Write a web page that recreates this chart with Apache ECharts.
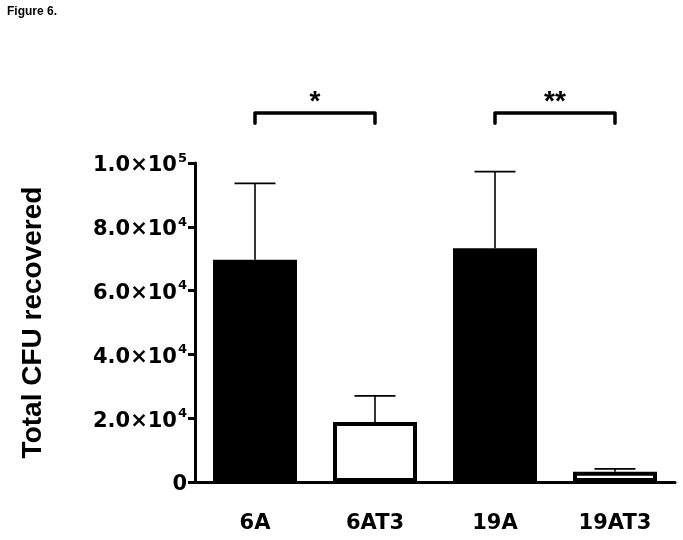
<!DOCTYPE html>
<html>
<head>
<meta charset="utf-8">
<script src="https://cdn.jsdelivr.net/npm/echarts@6/dist/echarts.min.js"></script>
<style>html,body{margin:0;padding:0;background:#fff;}#c{width:683px;height:540px;}</style>
</head>
<body>
<div id="c"></div>
<script>
var categories = ['6A', '6AT3', '19A', '19AT3'];
var means = [69700, 18800, 73300, 3200];
var errUpper = [23900, 8200, 24000, 900];
var fills = ['#000000', '#ffffff', '#000000', '#ffffff'];
var yTicks = [0, 20000, 40000, 60000, 80000, 100000];
var yTickLabels = ['0', '2.0×10|4', '4.0×10|4', '6.0×10|4', '8.0×10|4', '1.0×10|5'];
var brackets = [[0, 1, 115700, 112500, 119000, '*'], [2, 3, 115700, 112500, 119000, '**']];

var FONT = "'Liberation Sans', Arial, sans-serif";
var WFONT = "'DejaVu Sans', 'Liberation Sans', sans-serif";
var chart = echarts.init(document.getElementById('c'), null, {renderer: 'canvas'});

var errData = means.map(function (m, i) { return [i, m, m + errUpper[i]]; });

var option = {
  animation: false,
  backgroundColor: '#fff',
  title: {
    text: 'Figure 6.', left: 7, top: 6, padding: 0,
    textStyle: {fontFamily: FONT, fontSize: 12, fontWeight: 'bold', color: '#000'}
  },
  grid: {left: 195, top: 163, width: 480, height: 319, containLabel: false},
  xAxis: {
    type: 'category', data: categories,
    axisLine: {lineStyle: {color: '#000', width: 3}},
    axisTick: {alignWithLabel: true, length: 10, lineStyle: {color: '#000', width: 3}},
    axisLabel: {margin: 31, color: '#000', fontFamily: WFONT, fontSize: 21, fontWeight: 'bold'}
  },
  yAxis: {
    type: 'value', min: 0, max: 100000, interval: 20000,
    name: 'Total CFU recovered', nameLocation: 'middle', nameGap: 148,
    nameTextStyle: {fontFamily: FONT, fontSize: 28, fontWeight: 'bold', color: '#000'},
    splitLine: {show: false},
    axisLine: {show: true, lineStyle: {color: '#000', width: 3}},
    axisTick: {show: true, length: 7, lineStyle: {color: '#000', width: 3}},
    axisLabel: {
      margin: 8, color: '#000',
      formatter: function (v) {
        var idx = yTicks.indexOf(v);
        var s = idx >= 0 ? yTickLabels[idx] : String(v);
        var parts = s.split('|');
        if (parts.length === 1) return '{b|' + parts[0] + '}';
        return '{b|' + parts[0] + '}{s|' + parts[1] + '}';
      },
      rich: {
        b: {fontFamily: WFONT, fontSize: 21, fontWeight: 'bold', color: '#000', lineHeight: 22, padding: [6, 0, 0, 0]},
        s: {fontFamily: WFONT, fontSize: 13, fontWeight: 'bold', color: '#000', lineHeight: 14, verticalAlign: 'top', padding: [0, 0, 0, 1]}
      }
    }
  },
  series: [
    {
      type: 'bar', barWidth: 84, z: 2,
      data: means.map(function (m, i) {
        return {
          value: m,
          itemStyle: {color: fills[i], borderColor: '#000', borderWidth: fills[i] === '#ffffff' ? 4 : 0}
        };
      })
    },
    {
      type: 'custom', z: 3,
      data: errData,
      encode: {x: 0, y: 2},
      renderItem: function (params, api) {
        var i = api.value(0);
        var p0 = api.coord([i, api.value(1)]);
        var p1 = api.coord([i, api.value(2)]);
        var half = 20.5;
        var st = {stroke: '#000', lineWidth: 1.6};
        return {
          type: 'group',
          children: [
            {type: 'line', shape: {x1: p0[0], y1: p0[1], x2: p1[0], y2: p1[1]}, style: st},
            {type: 'line', shape: {x1: p1[0] - half, y1: p1[1], x2: p1[0] + half, y2: p1[1]}, style: st}
          ]
        };
      }
    },
    {
      type: 'custom', z: 4, clip: false,
      data: brackets,
      encode: {x: 0, y: 2},
      renderItem: function (params, api) {
        var a = api.coord([api.value(0), api.value(2)]);
        var b = api.coord([api.value(1), api.value(2)]);
        var aF = api.coord([api.value(0), api.value(3)]);
        var bF = api.coord([api.value(1), api.value(3)]);
        var tY = api.coord([api.value(0), api.value(4)])[1];
        var tX = (a[0] + b[0]) / 2;
        var label = brackets[params.dataIndex][5];
        return {
          type: 'group',
          children: [
            {type: 'polyline', shape: {points: [aF, a, b, bF]},
             style: {stroke: '#000', lineWidth: 3.5, fill: null, lineJoin: 'round', lineCap: 'round'}},
            {type: 'text', x: tX, y: tY,
             style: {text: label, fill: '#000', font: 'bold 28px ' + FONT, align: 'center', verticalAlign: 'middle'}}
          ]
        };
      }
    }
  ]
};
chart.setOption(option);
</script>
</body>
</html>
